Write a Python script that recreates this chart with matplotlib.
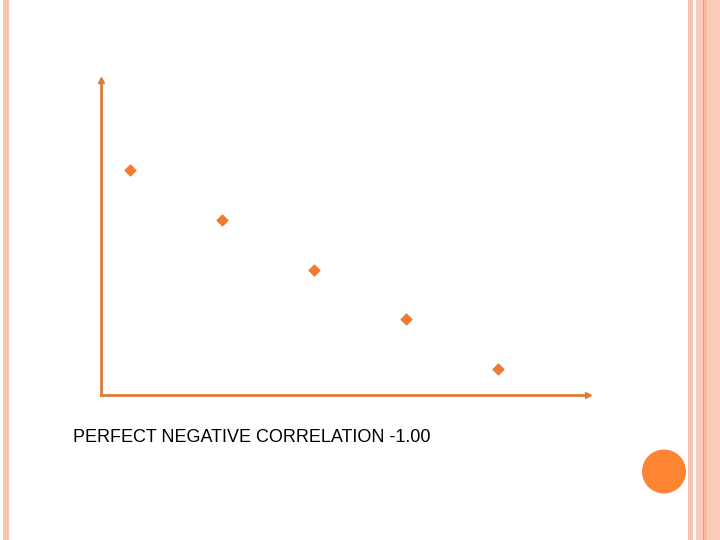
import matplotlib
matplotlib.use("Agg")
import matplotlib.pyplot as plt
from matplotlib.patches import Rectangle, Circle

x_vals = [1, 2, 3, 4, 5]
y_vals = [5, 4, 3, 2, 1]
caption = "PERFECT NEGATIVE CORRELATION -1.00"

W, H = 720, 540
fig = plt.figure(figsize=(7.2, 5.4), dpi=100)
fig.patch.set_facecolor("white")

# decoration layer in pixel coordinates
bg = fig.add_axes([0, 0, 1, 1])
bg.set_xlim(0, W)
bg.set_ylim(H, 0)
bg.axis("off")
bg.add_patch(Rectangle((3, 0), 6, H, color="#F8C4B0", lw=0))
bg.add_patch(Rectangle((688, 0), 4.5, H, color="#F8C4B0", lw=0))
bg.add_patch(Rectangle((696, 0), 24, H, color="#FACBB8", lw=0))
bg.add_patch(Rectangle((703, 0), 4, H, color="#F6B9A2", lw=0))
bg.add_patch(Rectangle((702.5, 0), 1, H, color="#EE9C78", lw=0))
bg.add_patch(Circle((664, 471.5), 22, color="#FD8432", lw=0))
bg.text(73, 441.5, caption, fontsize=13, family="Liberation Sans",
        color="black", va="baseline", ha="left")

# chart axes
left, right, bottom, top = 101, 588, 395, 80
ax = fig.add_axes([left / W, 1 - bottom / H, (right - left) / W, (bottom - top) / H])
ax.patch.set_alpha(0)
ax.set_xlim(0.685, 5.98)
ax.set_ylim(0.477, 1 + 4 * (bottom - top) / (369 - 170) - 4 * (bottom - 369) / (369 - 170) + 0.0)
# recompute ylim precisely from pixel geometry
per = (369 - 170) / 4.0
ax.set_ylim(1 - (bottom - 369) / per, 1 + (369 - top) / per)
for s in ["top", "right"]:
    ax.spines[s].set_visible(False)
axc = "#DC7C3A"
for s in ["left", "bottom"]:
    ax.spines[s].set_color(axc)
    ax.spines[s].set_linewidth(2)
ax.set_xticks([])
ax.set_yticks([])
ax.plot(1, 0, marker=">", color=axc, ms=5, transform=ax.transAxes, clip_on=False)
ax.plot(0, 1, marker="^", color=axc, ms=5, transform=ax.transAxes, clip_on=False)
ax.scatter(x_vals, y_vals, marker="D", s=30, color="#F07A32", zorder=3, clip_on=False)

fig.savefig("out.png", dpi=100)
